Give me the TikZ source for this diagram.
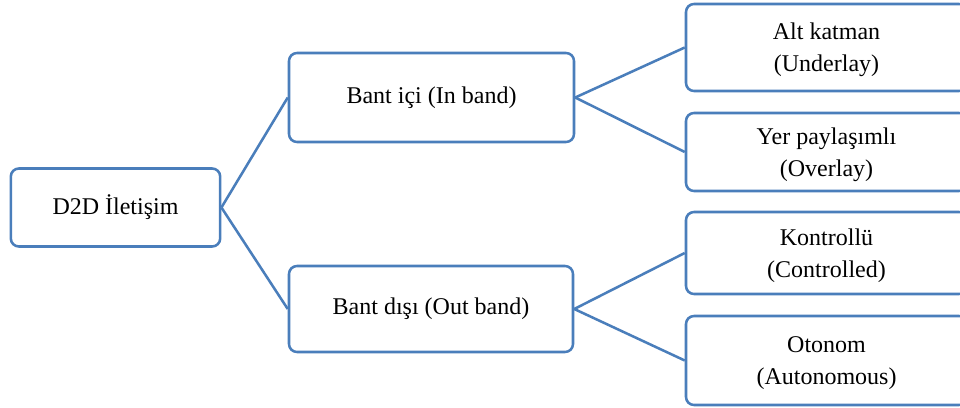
\documentclass[tikz,border=0pt]{standalone}
\usepackage{fontspec}
\setmainfont{Liberation Serif}
\definecolor{boxblue}{HTML}{4A7EBB}
\begin{document}
\begin{tikzpicture}[x=0.75pt,y=-0.75pt,
  box/.style={draw=boxblue, line width=1.9pt, rounded corners=6pt, fill=white,
    align=center, inner sep=0pt, font=\fontsize{18}{24}\selectfont},
  leaf/.style={box, minimum width=210.75pt, text depth=-2pt},
  link/.style={draw=boxblue, line width=1.9pt}]
  \clip (0,0) rectangle (960,407);
  \fill[white] (0,0) rectangle (960,407);

  % root
  \node[box, minimum width=157pt, minimum height=58.5pt] (d2d) at (115.5,207.5) {D2D İletişim};

  % second level
  \node[box, minimum width=213.75pt, minimum height=66.75pt] (ici) at (431.5,97.5) {Bant içi (In band)};
  \node[box, minimum width=213pt, minimum height=64.5pt] (disi) at (431,309) {Bant dışı (Out band)};

  % leaves
  \node[leaf, minimum height=65.25pt] (alt) at (826.5,47.5) {Alt katman\\(Underlay)};
  \node[leaf, minimum height=58.5pt] (yer) at (826.5,152) {Yer paylaşımlı\\(Overlay)};
  \node[leaf, minimum height=61.5pt] (kon) at (826.5,253) {Kontrollü\\(Controlled)};
  \node[leaf, minimum height=66.75pt] (oto) at (826.5,360.5) {Otonom\\(Autonomous)};

  % connectors
  \draw[link] (d2d.east) -- (ici.west);
  \draw[link] (d2d.east) -- (disi.west);
  \draw[link] (ici.east) -- (alt.west);
  \draw[link] (ici.east) -- (yer.west);
  \draw[link] (disi.east) -- (kon.west);
  \draw[link] (disi.east) -- (oto.west);
\end{tikzpicture}
\end{document}
